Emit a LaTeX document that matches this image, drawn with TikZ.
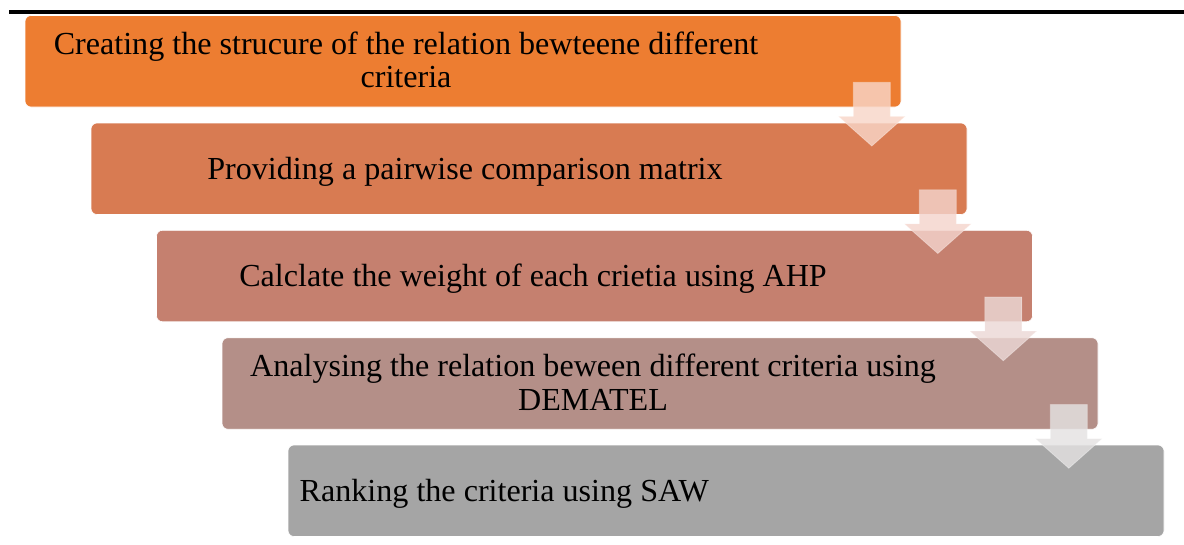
\documentclass[tikz,border=0pt]{standalone}
\usepackage{fontspec}
\setmainfont{Liberation Serif}
\usetikzlibrary{calc}
\definecolor{cA}{RGB}{237,125,49}
\definecolor{cB}{RGB}{216,123,82}
\definecolor{cC}{RGB}{197,128,111}
\definecolor{cD}{RGB}{180,143,136}
\definecolor{cE}{RGB}{165,165,165}
\definecolor{aA}{RGB}{248,214,200}
\definecolor{aB}{RGB}{244,212,204}
\definecolor{aC}{RGB}{236,216,213}
\definecolor{aD}{RGB}{228,226,226}
\tikzset{
  stepbox/.style={rectangle, rounded corners=6pt, draw=white, line width=0.6pt,
    minimum width=876pt, minimum height=91.5pt, inner sep=0pt},
  steptext/.style={inner sep=0pt, align=center, text=black,
    font=\rmfamily\fontsize{32.1}{33.5}\selectfont},
  downarrow/.style={fill=#1, fill opacity=0.82, draw=white, draw opacity=0.35, line width=0.8pt}
}
\newcommand{\mystrut}{\rule[-10.05pt]{0pt}{33.5pt}}
\begin{document}
\begin{tikzpicture}[x=1pt,y=-1pt]
\useasboundingbox (0,0) rectangle (1184,544);
\draw[line width=4pt] (9,12) -- (1184,12);
% boxes
\node[stepbox, fill=cA] (b1) at (463,61.25) {};
\node[stepbox, fill=cB] (b2) at (529,168.75) {};
\node[stepbox, fill=cC] (b3) at (594.5,276) {};
\node[stepbox, fill=cD] (b4) at (660,383.5) {};
\node[stepbox, fill=cE] (b5) at (726,490.75) {};
% arrows
\foreach \b/\c in {b1/aA,b2/aB,b3/aC,b4/aD}{
  \draw[downarrow=\c]
    ($(\b.south east)+(-48,-25)$) -- ($(\b.south east)+(-11,-25)$)
    -- ($(\b.south east)+(-11,9)$) -- ($(\b.south east)+(4,9)$)
    -- ($(\b.south east)+(-29.5,38.7)$) -- ($(\b.south east)+(-63,9)$)
    -- ($(\b.south east)+(-48,9)$) -- cycle;
}
% texts
\node[steptext] (t1) at (406,64.35) {\mystrut Creating the strucure of the relation bewteene different\\\mystrut criteria};
\node[steptext, anchor=base] (t2) at (465,179.3) {Providing a pairwise comparison matrix};
\node[steptext, anchor=base] (t3) at (533,286) {Calclate the weight of each crietia using AHP};
\node[steptext] (t4) at (593,386.75) {\mystrut Analysing the relation beween different criteria using\\\mystrut DEMATEL};
\node[steptext, anchor=base west] (t5) at (299.5,501.7) {Ranking the criteria using SAW};
\end{tikzpicture}
\end{document}
